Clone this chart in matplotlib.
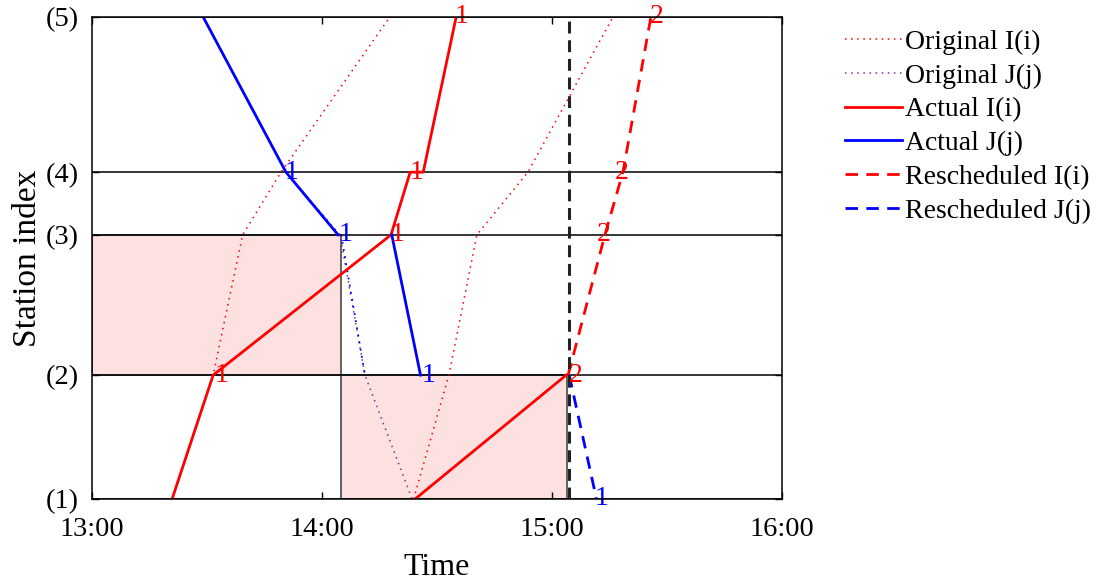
import matplotlib.pyplot as plt
from matplotlib.patches import Rectangle

plt.rcParams['font.family'] = ['Liberation Serif', 'DejaVu Serif']

# station positions along the line (relative distance) and labels
station_pos = [0.0, 25.7, 54.8, 67.8, 100.0]
station_labels = ['(1)', '(2)', '(3)', '(4)', '(5)']

# time axis in minutes after 13:00
time_ticks = [0, 60, 120, 180]
time_labels = ['13:00', '14:00', '15:00', '16:00']

# original timetable
orig_I1_t = [20.9, 31.6, 39.3, 49.3, 77.7]
orig_I1_s = [1, 2, 3, 4, 5]
orig_I2_t = [83.9, 93.1, 100.4, 113.7, 135.9]
orig_I2_s = [1, 2, 3, 4, 5]
orig_J_t = [29.0, 50.6, 64.7, 71.2, 83.5]
orig_J_s = [5, 4, 3, 2, 1]
orig_Jb_t = [65.0, 71.2]
orig_Jb_s = [3, 2]

# actual operation
act_I1_t = [20.9, 31.6, 78.0, 83.0, 86.4, 95.0]
act_I1_s = [1, 2, 3, 4, 4, 5]
act_I2_t = [84.3, 123.7]
act_I2_s = [1, 2]
act_J1_t = [29.0, 50.6, 64.2]
act_J1_s = [5, 4, 3]
act_J2_t = [78.2, 85.7]
act_J2_s = [3, 2]

# rescheduled
res_I_t = [124.2, 133.8, 138.5, 145.8]
res_I_s = [2, 3, 4, 5]
res_J_t = [124.5, 131.6]
res_J_s = [2, 1]

now_t = 124.4

# shaded blocks: (t0, t1, station from, station to)
blocks = [(0.0, 65.0, 2, 3), (65.0, 123.9, 1, 2)]

# train number labels
lab_t = [31.9, 77.8, 82.9, 94.6, 50.2, 64.3, 85.9, 131.0, 124.4, 131.8, 136.3, 145.6]
lab_s = [2, 3, 4, 5, 4, 3, 2, 1, 2, 3, 4, 5]
lab_txt = ['1', '1', '1', '1', '1', '1', '1', '1', '2', '2', '2', '2']
lab_col = ['r', 'r', 'r', 'r', 'b', 'b', 'b', 'b', 'r', 'r', 'r', 'r']

purple = '#7E2F8E'


def ypos(s):
    return [station_pos[k - 1] for k in s]


fig = plt.figure(figsize=(10.98, 5.86), dpi=100)
ax = fig.add_axes([0.0838, 0.1485, 0.6284, 0.8225])

for t0, t1, s0, s1 in blocks:
    y0 = station_pos[s0 - 1]
    y1 = station_pos[s1 - 1]
    ax.add_patch(Rectangle((t0, y0), t1 - t0, y1 - y0, facecolor='#fde0e0',
                           edgecolor='#555555', lw=1.3, zorder=1))

for p in station_pos:
    ax.axhline(p, color='k', lw=1.1, zorder=2)

dot = (1, 3)
ax.plot(orig_I1_t, ypos(orig_I1_s), color='r', lw=1.1, dashes=dot, zorder=3, label='Original I(i)')
ax.plot(orig_I2_t, ypos(orig_I2_s), color='r', lw=1.1, dashes=dot, zorder=3)
ax.plot(orig_J_t, ypos(orig_J_s), color=purple, lw=1.1, dashes=dot, zorder=3, label='Original J(j)')
ax.plot(orig_Jb_t, ypos(orig_Jb_s), color='b', lw=1.3, dashes=dot, zorder=3)

ax.plot(act_I1_t, ypos(act_I1_s), '-', color='r', lw=2.0, zorder=4, label='Actual I(i)')
ax.plot(act_I2_t, ypos(act_I2_s), '-', color='r', lw=2.0, zorder=4)
ax.plot(act_J1_t, ypos(act_J1_s), '-', color='b', lw=2.0, zorder=4, label='Actual J(j)')
ax.plot(act_J2_t, ypos(act_J2_s), '-', color='b', lw=2.0, zorder=4)

ax.plot(res_I_t, ypos(res_I_s), color='r', lw=2.0, dashes=(4.5, 3), zorder=4, label='Rescheduled I(i)')
ax.plot(res_J_t, ypos(res_J_s), color='b', lw=2.0, dashes=(4.5, 3), zorder=4, label='Rescheduled J(j)')

ax.axvline(now_t, color='#222222', lw=2.2, dashes=(3.9, 2.2), zorder=5)

for t, s, txt, c in zip(lab_t, lab_s, lab_txt, lab_col):
    ax.text(t, station_pos[s - 1], txt, color=c, fontsize=20, ha='left', va='center', zorder=6)

ax.set_xlim(0, 180)
ax.set_ylim(0, 100)
ax.set_xticks(time_ticks)
ax.set_xticklabels(time_labels)
ax.set_yticks(station_pos)
ax.set_yticklabels(station_labels)
ax.tick_params(direction='in', top=True, right=True, labelsize=20.5, length=5, width=1)
ax.tick_params(axis='x', pad=13)
ax.tick_params(axis='y', pad=9.5)
for sp in ax.spines.values():
    sp.set_linewidth(1.1)
    sp.set_zorder(7)
ax.set_xlabel('Time', fontsize=23, labelpad=8)
ax.set_ylabel('Station index', fontsize=24, labelpad=2)

fig.legend(*ax.get_legend_handles_labels(), loc='upper left', bbox_to_anchor=(0.7696, 0.950),
           frameon=False, fontsize=20, handlelength=2.05, handletextpad=0.1,
           labelspacing=0.30, borderaxespad=0, borderpad=0)

fig.savefig('out.png', dpi=100)
